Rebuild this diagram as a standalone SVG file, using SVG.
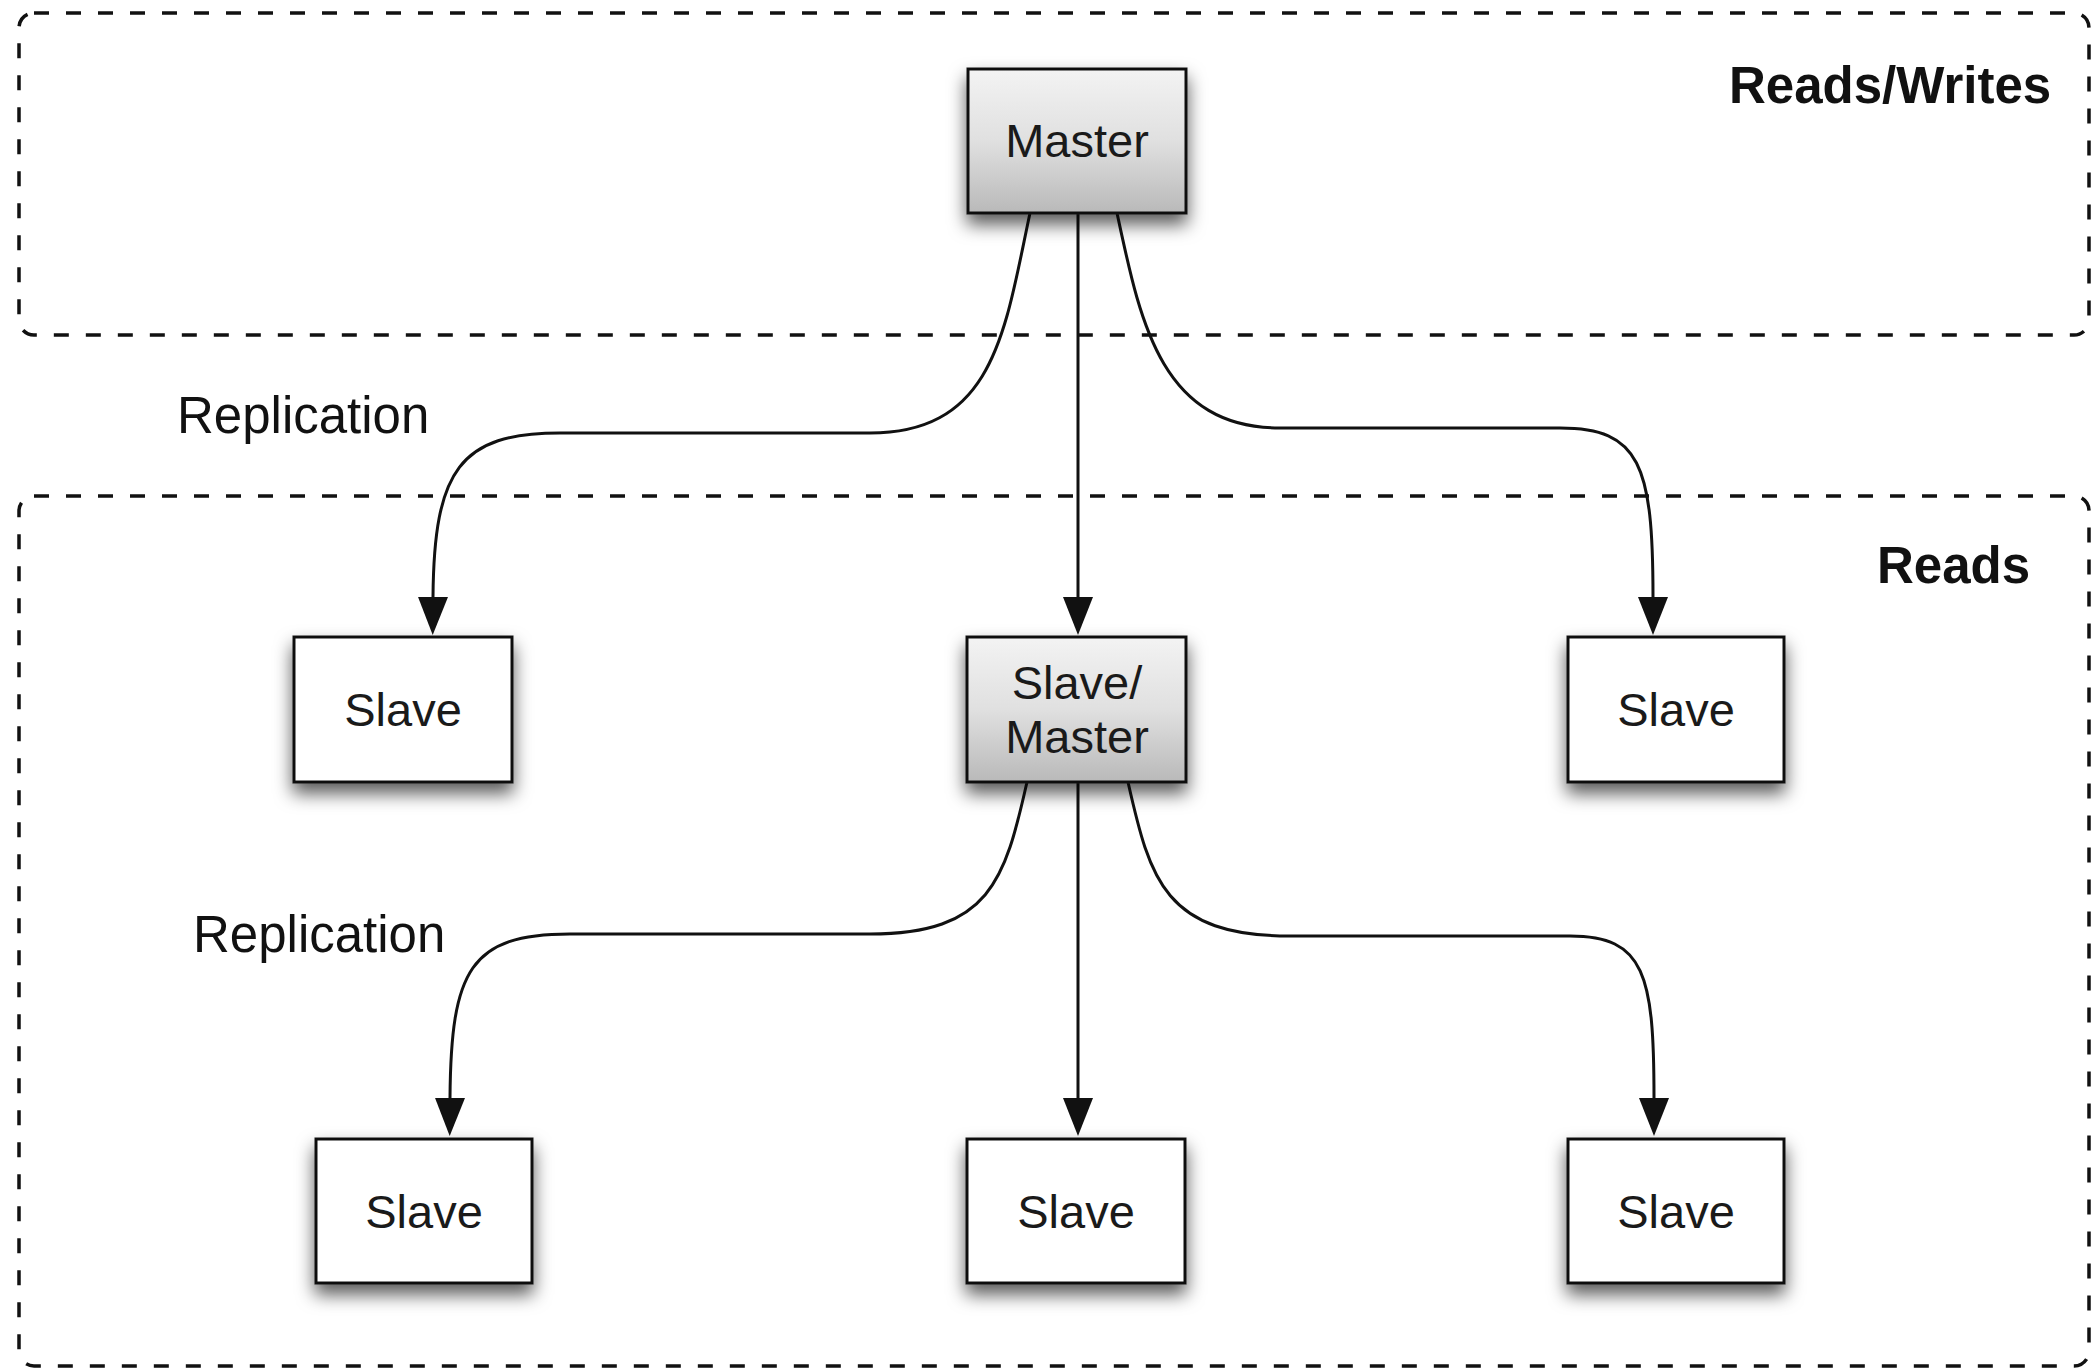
<svg xmlns="http://www.w3.org/2000/svg" width="2091" height="1369" viewBox="0 0 2091 1369">
  <style>
    .zone { fill: none; stroke: #111; stroke-width: 3.5; stroke-dasharray: 15 17; }
    .box { stroke: #111; stroke-width: 3; }
    .plain { fill: #fff; }
    .shaded { fill: url(#shade); }
    .label { font-family: "Liberation Sans", Arial, sans-serif; font-size: 47px; fill: #1a1a1a; text-anchor: middle; }
    .free { font-family: "Liberation Sans", Arial, sans-serif; font-size: 51px; fill: #111; }
    .bold { font-weight: bold; }
    .wire { fill: none; stroke: #111; stroke-width: 3; marker-end: url(#arrow); }
  </style>
  <defs>
    <linearGradient id="shade" x1="0" y1="0" x2="0" y2="1">
      <stop offset="0" stop-color="#f3f3f3"/>
      <stop offset="0.5" stop-color="#e0e0e0"/>
      <stop offset="1" stop-color="#b9b9b9"/>
    </linearGradient>
    <filter id="shadow" x="-20%" y="-20%" width="140%" height="170%">
      <feDropShadow dx="0" dy="10" stdDeviation="9" flood-color="#000" flood-opacity="0.65"/>
    </filter>
    <marker id="arrow" viewBox="0 0 38 30" refX="0" refY="15" markerWidth="38" markerHeight="30" markerUnits="userSpaceOnUse" orient="auto">
      <path d="M0,0 L38,15 L0,30 Z" fill="#111"/>
    </marker>
  </defs>

  <!-- zones -->
  <g id="zone-readwrite">
    <rect class="zone" x="19" y="13" width="2070" height="322" rx="15"/>
    <text class="free bold" x="1729" y="103">Reads/Writes</text>
  </g>
  <g id="zone-reads">
    <rect class="zone" x="19" y="496" width="2070" height="870" rx="15"/>
    <text class="free bold" x="1877" y="583">Reads</text>
  </g>

  <!-- connectors -->
  <g id="connectors">
    <path class="wire" d="M1030,213 C1005,330 995,433 870,433 L560,433 C460,433 434,470 433,597"/>
    <path class="wire" d="M1078,213 L1078,597"/>
    <path class="wire" d="M1117,213 C1140,320 1160,428 1280,428 L1560,428 C1640,428 1653,465 1653,597"/>
    <path class="wire" d="M1027,782 C1005,880 990,934 870,934 L570,934 C470,934 451,970 450,1098"/>
    <path class="wire" d="M1078,782 L1078,1098"/>
    <path class="wire" d="M1128,782 C1150,880 1165,936 1290,936 L1570,936 C1645,936 1654,975 1654,1098"/>
    <text class="free" x="177" y="433">Replication</text>
    <text class="free" x="193" y="952">Replication</text>
  </g>

  <!-- nodes -->
  <g id="master">
    <rect class="box shaded" x="968" y="69" width="218" height="144" filter="url(#shadow)"/>
    <text class="label" x="1077" y="157">Master</text>
  </g>
  <g id="slave-1">
    <rect class="box plain" x="294" y="637" width="218" height="145" filter="url(#shadow)"/>
    <text class="label" x="403" y="726">Slave</text>
  </g>
  <g id="slave-master">
    <rect class="box shaded" x="967" y="637" width="219" height="145" filter="url(#shadow)"/>
    <text class="label" x="1077" y="699">Slave/</text>
    <text class="label" x="1077" y="753">Master</text>
  </g>
  <g id="slave-2">
    <rect class="box plain" x="1568" y="637" width="216" height="145" filter="url(#shadow)"/>
    <text class="label" x="1676" y="726">Slave</text>
  </g>
  <g id="slave-3">
    <rect class="box plain" x="316" y="1139" width="216" height="144" filter="url(#shadow)"/>
    <text class="label" x="424" y="1228">Slave</text>
  </g>
  <g id="slave-4">
    <rect class="box plain" x="967" y="1139" width="218" height="144" filter="url(#shadow)"/>
    <text class="label" x="1076" y="1228">Slave</text>
  </g>
  <g id="slave-5">
    <rect class="box plain" x="1568" y="1139" width="216" height="144" filter="url(#shadow)"/>
    <text class="label" x="1676" y="1228">Slave</text>
  </g>
</svg>
